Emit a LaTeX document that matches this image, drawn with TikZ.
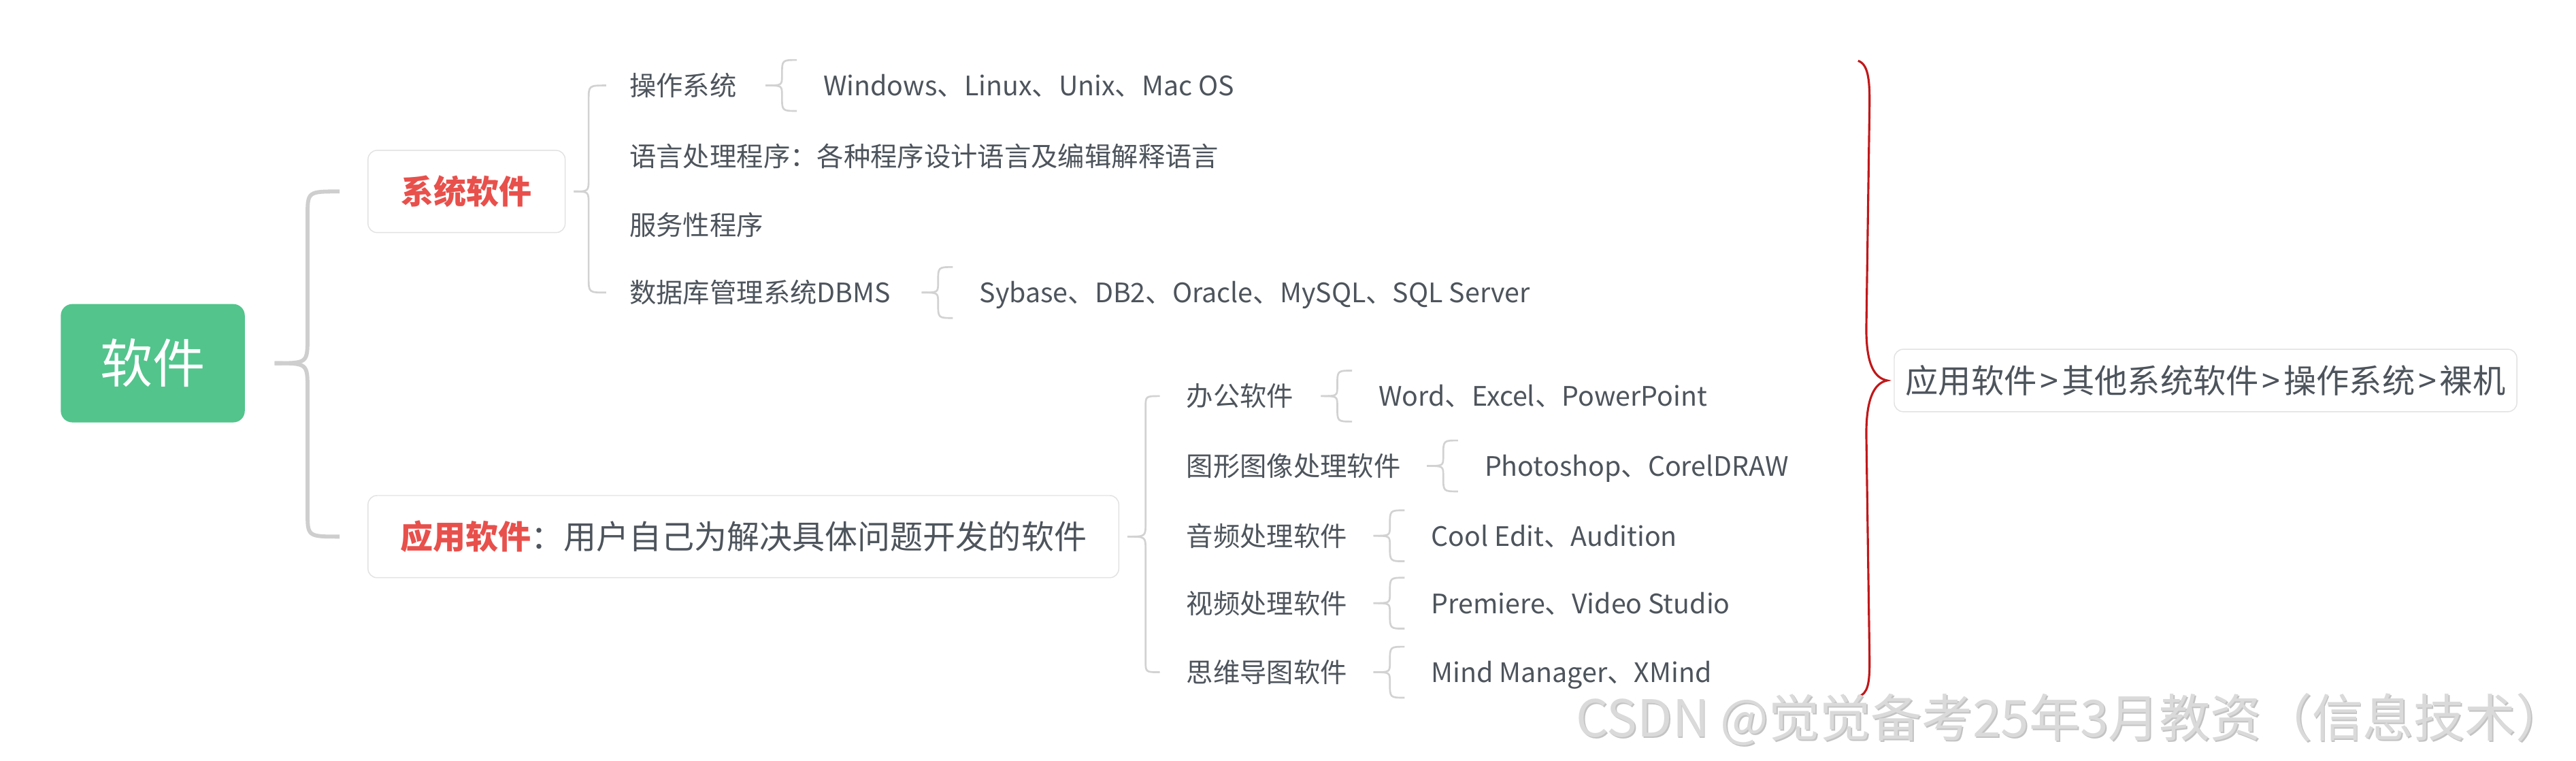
\documentclass[tikz,border=0pt]{standalone}
\usepackage{fontspec}
\newfontfamily\cjk{Noto Sans CJK SC}
\usetikzlibrary{calc,backgrounds}
\definecolor{txt}{RGB}{77,84,92}
\definecolor{redt}{RGB}{232,80,76}
\definecolor{grn}{RGB}{82,196,140}
\definecolor{lnc}{RGB}{206,206,206}
\definecolor{lnl}{RGB}{210,210,210}
\definecolor{bdr}{RGB}{226,226,226}
\definecolor{shd}{RGB}{222,222,222}
\definecolor{brc}{RGB}{192,24,26}
\definecolor{wmc}{RGB}{218,218,218}
\definecolor{wms}{RGB}{195,195,195}
\tikzset{
  brc/.style n args={3}{to path={
    let \p1=(\tikztostart), \p2=(\tikztotarget), \n1={sign(\y2-\y1)} in
    .. controls ({\x1+#1},{\y1}) .. ({\x1+#1},{\y1+(\n1)*(#2)})
    -- ({\x1+#1},{\y2-(\n1)*(#3)})
    .. controls ({\x1+#1},{\y2}) .. (\p2)
  }},
  base/.style={font=\cjk, text=txt, inner sep=0pt},
  t2/.style={base, anchor=west, font=\cjk\fontsize{16.3pt}{16.3pt}\selectfont, text height=14.4pt, text depth=2pt},
  card/.style={base, draw=bdr, line width=0.6pt, fill=white, rounded corners=5.5pt,
    font=\cjk\fontsize{19.9pt}{19.9pt}\selectfont, text height=17.6pt, text depth=2.4pt},
  rootbox/.style={base, fill=grn, rounded corners=7pt, text=white,
    minimum width=112pt, minimum height=72pt,
    font=\cjk\fontsize{32pt}{32pt}\selectfont, text height=28pt, text depth=4pt},
  l1/.style={draw=lnc, line width=2.4pt},
  l2/.style={draw=lnl, line width=1.1pt},
  redbrace/.style={draw=brc, line width=1.3pt},
  wmark/.style={base, anchor=east, font=\cjk\fontsize{31pt}{31pt}\selectfont, text height=27pt, text depth=4pt}
}
\newcommand\gtsep{\hspace{2pt}>\hspace{2pt}}
\begin{document}
\begin{tikzpicture}[x=1pt,y=-1pt]
\useasboundingbox (0,0) rectangle (1568,463);
\fill[white] (0,0) rectangle (1568,463);

% root and level 1
\node[rootbox] (root) at (93,221) {软件};
\node[card, minimum width=120pt, minimum height=50pt] (sys) at (284,116.5) {\color{redt}\bfseries 系统软件};
\node[card, minimum width=457pt, minimum height=50pt] (app) at (452.5,326.5) {{\color{redt}\bfseries 应用软件}：用户自己为解决具体问题开发的软件};
\node[card, minimum width=379pt, minimum height=38pt, font=\cjk\fontsize{20pt}{20pt}\selectfont] (res) at (1342.5,231.5) {应用软件\gtsep 其他系统软件\gtsep 操作系统\gtsep 裸机};

% shadows
\begin{scope}[on background layer]
\foreach \b in {sys,app,res}{
  \fill[shd, rounded corners=5.5pt] ([xshift=0.5pt,yshift=-2.3pt]\b.south west) rectangle ([xshift=0.5pt,yshift=-2.3pt]\b.north east);
}
\end{scope}

% system software children
\node[t2] (os)   at (383,52)  {操作系统};
\node[t2] (lang) at (383,95)  {语言处理程序：各种程序设计语言及编辑解释语言};
\node[t2] (svc)  at (383,137) {服务性程序};
\node[t2] (db)   at (383,178) {数据库管理系统DBMS};
\node[t2] (osl)  at (501,52)  {Windows、Linux、Unix、Mac OS};
\node[t2] (dbl)  at (596,178) {Sybase、DB2、Oracle、MySQL、SQL Server};

% application software children
\node[t2] (off)  at (722,241)   {办公软件};
\node[t2] (gfx)  at (722,283.5) {图形图像处理软件};
\node[t2] (aud)  at (722,326)   {音频处理软件};
\node[t2] (vid)  at (722,367)   {视频处理软件};
\node[t2] (mind) at (722,409)   {思维导图软件};
\node[t2] (offl)  at (839,241)   {Word、Excel、PowerPoint};
\node[t2] (gfxl)  at (903.5,283.5) {Photoshop、CorelDRAW};
\node[t2] (audl)  at (871,326)   {Cool Edit、Audition};
\node[t2] (vidl)  at (871,367)   {Premiere、Video Studio};
\node[t2] (mindl) at (871,409)   {Mind Manager、XMind};

% level 1 brace
\coordinate (rt) at ([xshift=18pt]root.east);
\coordinate (rs) at ([xshift=-17pt]sys.west);
\coordinate (ra) at ([xshift=-17pt]app.west);
\draw[l1] (rt) to[brc={20pt}{16pt}{15pt}] (rs);
\draw[l1] (rt) to[brc={20pt}{16pt}{15pt}] (ra);

% system brace
\coordinate (st) at ([xshift=5pt]sys.east);
\coordinate (so) at ([xshift=-14pt]os.west);
\coordinate (sd) at ([xshift=-14pt]db.west);
\draw[l2] (st) to[brc={9pt}{8pt}{9pt}] (so);
\draw[l2] (st) to[brc={9pt}{8pt}{9pt}] (sd);

% application brace
\coordinate (at) at ([xshift=5pt]app.east);
\coordinate (ao) at ([xshift=-16pt]off.west);
\coordinate (am) at ([xshift=-16pt]mind.west);
\draw[l2] (at) to[brc={11pt}{8pt}{7pt}] (ao);
\draw[l2] (at) to[brc={11pt}{8pt}{7pt}] (am);

% leaf braces
\foreach \lf in {osl,dbl,offl,gfxl,audl,vidl,mindl}{
  \coordinate (\lf-tip) at ([xshift=-35pt]\lf.west);
  \coordinate (\lf-up) at ([xshift=-16pt,yshift=15.5pt]\lf.west);
  \coordinate (\lf-dn) at ([xshift=-16pt,yshift=-15.5pt]\lf.west);
  \draw[l2] (\lf-tip) to[brc={10pt}{6pt}{9pt}] (\lf-up);
  \draw[l2] (\lf-tip) to[brc={10pt}{6pt}{9pt}] (\lf-dn);
}

% red brace
\coordinate (rbt) at (1131,37);
\coordinate (rbb) at (1131,424);
\coordinate (rbtip) at ([xshift=-4pt]res.west);
\draw[redbrace] (rbt) .. controls (1137,39) and (1138,48) .. (1138,62)
  -- (1136,200)
  .. controls (1136,222) and (1141,230) .. (rbtip)
  .. controls (1141,233) and (1136,242) .. (1136,264)
  -- (1138,402)
  .. controls (1138,416) and (1137,422) .. (rbb);

% watermark
\node[wmark, text=wms] (wmsh) at (1563.3,437.8) {CSDN @觉觉备考25年3月教资（信息技术）};
\node[wmark, text=wmc] (wm) at (1562.5,437) {CSDN @觉觉备考25年3月教资（信息技术）};
\end{tikzpicture}
\end{document}
